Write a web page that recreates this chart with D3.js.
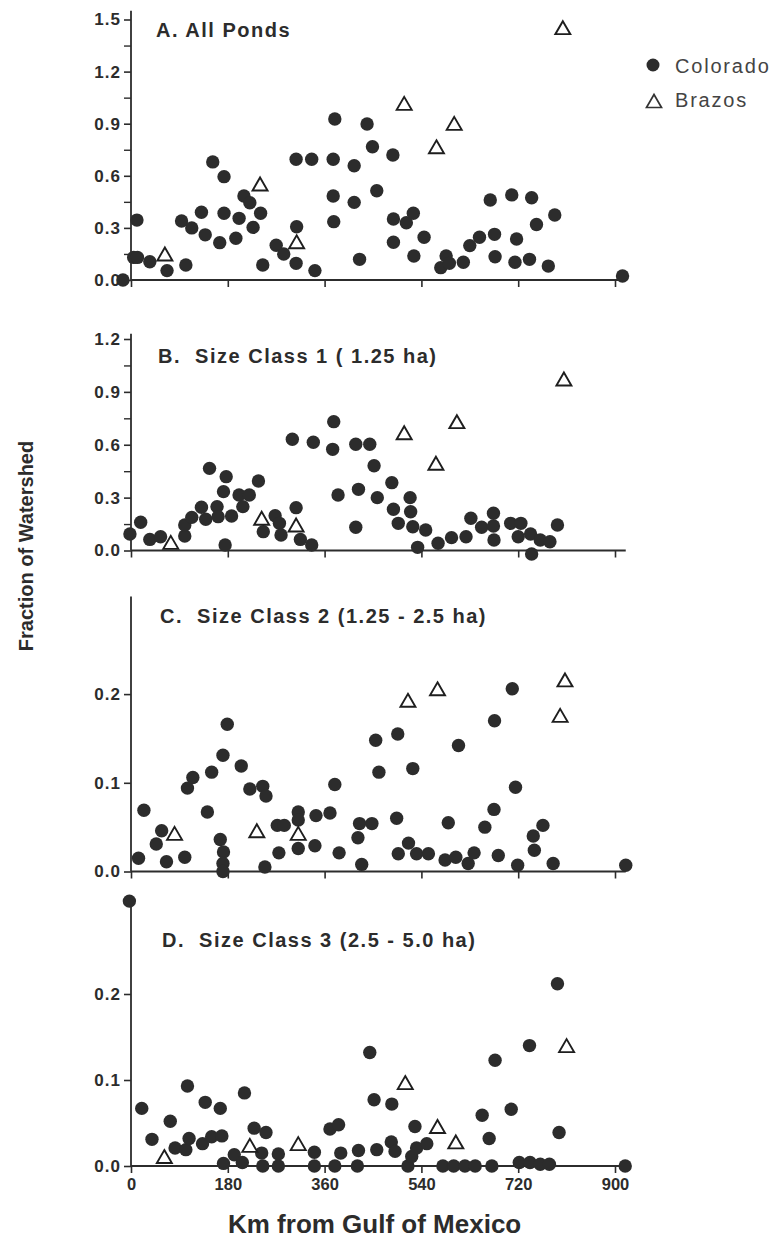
<!DOCTYPE html>
<html>
<head>
<meta charset="utf-8">
<script src="https://cdn.jsdelivr.net/npm/d3@7/dist/d3.min.js"></script>
<style>
  html, body { margin: 0; padding: 0; background: #fff; }
  svg { display: block; }
  text { font-family: "Liberation Sans", Arial, Helvetica, sans-serif; }
</style>
</head>
<body>
<svg id="chart" width="779" height="1238"></svg>
<script>
// ---------- DATA (km from Gulf of Mexico, fraction of watershed) ----------
const xTicks = [0, 180, 360, 540, 720, 900];

const titles = [
  "A. All Ponds",
  "B.  Size Class 1 ( 1.25 ha)",
  "C.  Size Class 2 (1.25 - 2.5 ha)",
  "D.  Size Class 3 (2.5 - 5.0 ha)"
];

const yTicksA = [0, 0.3, 0.6, 0.9, 1.2, 1.5];
const yMinorA = [0.15, 0.45, 0.75, 1.05, 1.35];
const yTicksB = [0, 0.3, 0.6, 0.9, 1.2];
const yMinorB = [0.15, 0.45, 0.75, 1.05];
const yTicksC = [0, 0.1, 0.2];
const yTicksD = [0, 0.1, 0.2];

const coloradoA = [[-15,0],[5,0.13],[12,0.13],[11,0.345],[35,0.105],[67,0.054],[94,0.34],[102,0.086],[113,0.30],[131,0.39],[138,0.26],[152,0.68],[165,0.215],[173,0.595],[173,0.384],[195,0.24],[201,0.355],[210,0.484],[221,0.445],[227,0.303],[241,0.384],[245,0.086],[270,0.2],[284,0.15],[307,0.096],[308,0.307],[307,0.695],[336,0.695],[342,0.054],[376,0.695],[379,0.927],[376,0.484],[377,0.336],[415,0.658],[415,0.447],[425,0.119],[439,0.898],[449,0.767],[457,0.514],[487,0.72],[488,0.351],[512,0.33],[525,0.384],[488,0.217],[545,0.246],[526,0.138],[576,0.071],[586,0.138],[592,0.096],[618,0.102],[630,0.198],[648,0.246],[676,0.263],[677,0.134],[668,0.461],[708,0.49],[717,0.236],[714,0.102],[745,0.474],[741,0.119],[754,0.32],[788,0.374],[776,0.08],[914,0.023]];
const brazosA = [[63,0.15],[240,0.553],[308,0.22],[508,1.017],[568,0.767],[601,0.902],[803,1.453]];

const coloradoB = [[-2,0.094],[18,0.16],[35,0.063],[55,0.078],[100,0.082],[100,0.145],[113,0.188],[131,0.245],[139,0.177],[146,0.466],[160,0.249],[162,0.192],[172,0.334],[177,0.419],[175,0.031],[187,0.196],[201,0.315],[208,0.249],[220,0.315],[237,0.394],[246,0.107],[268,0.197],[276,0.154],[279,0.088],[307,0.243],[315,0.063],[336,0.031],[300,0.631],[339,0.614],[377,0.731],[375,0.574],[385,0.315],[418,0.603],[423,0.347],[418,0.132],[444,0.603],[452,0.481],[458,0.3],[485,0.385],[488,0.234],[497,0.154],[519,0.3],[520,0.22],[524,0.135],[548,0.116],[533,0.018],[571,0.041],[596,0.073],[623,0.078],[632,0.183],[652,0.132],[674,0.211],[674,0.139],[675,0.06],[706,0.154],[725,0.154],[720,0.078],[743,0.094],[745,-0.02],[761,0.06],[779,0.05],[793,0.145]];
const brazosB = [[74,0.046],[243,0.183],[307,0.145],[508,0.668],[567,0.495],[606,0.731],[805,0.973]];

const coloradoC = [[14,0.015],[24,0.069],[47,0.031],[57,0.046],[66,0.011],[100,0.016],[105,0.094],[115,0.106],[142,0.067],[150,0.112],[171,0.131],[179,0.166],[166,0.036],[172,0.022],[171,0.009],[171,0.0],[205,0.119],[221,0.093],[245,0.096],[251,0.085],[249,0.005],[272,0.052],[285,0.052],[275,0.021],[311,0.067],[311,0.058],[311,0.026],[342,0.029],[344,0.063],[370,0.066],[379,0.098],[387,0.021],[422,0.038],[425,0.054],[429,0.008],[448,0.054],[455,0.148],[461,0.112],[496,0.155],[524,0.116],[494,0.06],[516,0.032],[497,0.02],[531,0.02],[553,0.02],[590,0.055],[584,0.013],[604,0.016],[627,0.009],[638,0.021],[609,0.142],[676,0.17],[709,0.206],[715,0.095],[658,0.05],[675,0.07],[683,0.018],[719,0.007],[748,0.04],[766,0.052],[750,0.024],[785,0.009],[920,0.007]];
const brazosC = [[81,0.043],[234,0.046],[311,0.043],[515,0.193],[570,0.206],[798,0.176],[807,0.216]];

const coloradoD = [[-3,0.308],[20,0.067],[39,0.031],[73,0.052],[82,0.021],[102,0.019],[108,0.032],[105,0.093],[133,0.026],[150,0.034],[169,0.035],[138,0.074],[166,0.067],[172,0.003],[192,0.013],[207,0.004],[211,0.085],[229,0.044],[251,0.039],[243,0.015],[245,0.0],[274,0.014],[274,0.0],[341,0.016],[341,0.0],[370,0.043],[386,0.048],[390,0.015],[379,0.0],[423,0.018],[421,0.0],[444,0.132],[452,0.077],[457,0.019],[485,0.072],[484,0.028],[491,0.017],[528,0.046],[515,0.0],[522,0.011],[531,0.021],[550,0.026],[580,0],[600,0],[621,0],[640,0],[671,0],[653,0.059],[666,0.032],[677,0.123],[707,0.066],[741,0.14],[793,0.212],[796,0.039],[722,0.004],[742,0.004],[761,0.002],[778,0.002],[919,0]];
const brazosD = [[62,0.011],[221,0.024],[311,0.026],[510,0.097],[570,0.046],[604,0.028],[810,0.14]];

const legendLabels = ["Colorado", "Brazos"];

// ---------- LAYOUT ----------
const svg = d3.select("#chart");
svg.append("rect").attr("width", 779).attr("height", 1238).attr("fill", "#fff");

const ink = "#2c2c2c";
const x = d3.scaleLinear().domain([0, 900]).range([131, 615]);

const panels = [
  { title: titles[0], col: coloradoA, bra: brazosA, ticks: yTicksA, minor: yMinorA,
    y: d3.scaleLinear().domain([0, 1.5]).range([280, 19.5]), top: 1.55, tx: 156, ty: 37, labels: false },
  { title: titles[1], col: coloradoB, bra: brazosB, ticks: yTicksB, minor: yMinorB,
    y: d3.scaleLinear().domain([0, 1.2]).range([550.5, 339]), top: 1.23, tx: 158, ty: 363, labels: false },
  { title: titles[2], col: coloradoC, bra: brazosC, ticks: yTicksC, minor: [],
    y: d3.scaleLinear().domain([0, 0.2]).range([871.5, 694.1]), top: 0.31, tx: 160, ty: 623, labels: false },
  { title: titles[3], col: coloradoD, bra: brazosD, ticks: yTicksD, minor: [],
    y: d3.scaleLinear().domain([0, 0.2]).range([1166, 994]), top: 0.31, tx: 162, ty: 947, labels: true }
];

const triW = 15, triH = 13;
const triPath = `M0,${-triH/2}L${triW/2},${triH/2}L${-triW/2},${triH/2}Z`;

panels.forEach(p => {
  const g = svg.append("g");

  // y axis
  const yAxis = d3.axisLeft(p.y).tickValues(p.ticks).tickSize(7).tickPadding(3)
    .tickFormat(d3.format(".1f"));
  const ya = g.append("g").attr("transform", `translate(${x(0)},0)`).call(yAxis);
  ya.select(".domain").remove();
  ya.selectAll("line").attr("stroke", ink).attr("stroke-width", 1.6);
  ya.selectAll("text").attr("fill", ink).attr("font-size", 17).attr("font-weight", "bold")
    .attr("letter-spacing", 1);

  // minor ticks
  const ym = d3.axisLeft(p.y).tickValues(p.minor).tickSize(7).tickFormat("");
  const ymg = g.append("g").attr("transform", `translate(${x(0)},0)`).call(ym);
  ymg.select(".domain").remove();
  ymg.selectAll("line").attr("stroke", ink).attr("stroke-width", 1.4);

  // y axis line
  g.append("line").attr("x1", x(0)).attr("x2", x(0))
    .attr("y1", p.y(p.top)).attr("y2", p.y(0))
    .attr("stroke", ink).attr("stroke-width", 1.8);

  // x axis
  const xAxis = d3.axisBottom(x).tickValues(xTicks).tickSize(7).tickPadding(5)
    .tickFormat(p.labels ? d3.format("d") : () => "");
  const xa = g.append("g").attr("transform", `translate(0,${p.y(0)})`).call(xAxis);
  xa.select(".domain").remove();
  xa.selectAll("line").attr("stroke", ink).attr("stroke-width", 1.6);
  xa.selectAll("text").attr("fill", ink).attr("font-size", 16.5).attr("font-weight", "bold");
  g.append("line").attr("x1", x(0)).attr("x2", x(920))
    .attr("y1", p.y(0)).attr("y2", p.y(0))
    .attr("stroke", ink).attr("stroke-width", 1.8);

  // title
  g.append("text").attr("x", p.tx).attr("y", p.ty)
    .attr("font-size", 20).attr("font-weight", "bold").attr("fill", ink)
    .attr("letter-spacing", 1.5).style("white-space", "pre")
    .text(p.title);

  // Colorado dots
  g.selectAll("circle.col").data(p.col).enter().append("circle")
    .attr("class", "col")
    .attr("cx", d => x(d[0])).attr("cy", d => p.y(d[1]))
    .attr("r", 6.7).attr("fill", ink);

  // Brazos triangles
  g.selectAll("path.bra").data(p.bra).enter().append("path")
    .attr("class", "bra")
    .attr("d", triPath)
    .attr("transform", d => `translate(${x(d[0])},${p.y(d[1])})`)
    .attr("fill", "#fff").attr("stroke", "#1e1e1e").attr("stroke-width", 1.9)
    .attr("stroke-linejoin", "miter");
});

// legend
const lg = svg.append("g");
lg.append("circle").attr("cx", 653).attr("cy", 65).attr("r", 6.5).attr("fill", ink);
lg.append("path").attr("d", triPath).attr("transform", "translate(654,101)")
  .attr("fill", "#fff").attr("stroke", "#333").attr("stroke-width", 1.7);
lg.selectAll("text").data(legendLabels).enter().append("text")
  .attr("x", 675).attr("y", (d, i) => 73 + i * 34)
  .attr("font-size", 20).attr("letter-spacing", 1.8).attr("fill", "#444")
  .text(d => d);

// axis titles
svg.append("text").attr("transform", "translate(33,546) rotate(-90)")
  .attr("text-anchor", "middle").attr("font-size", 20).attr("font-weight", "bold")
  .attr("fill", ink).text("Fraction of Watershed");

svg.append("text").attr("x", 228).attr("y", 1233)
  .attr("font-size", 26).attr("font-weight", "bold").attr("fill", ink)
  .text("Km from Gulf of Mexico");
</script>
</body>
</html>
